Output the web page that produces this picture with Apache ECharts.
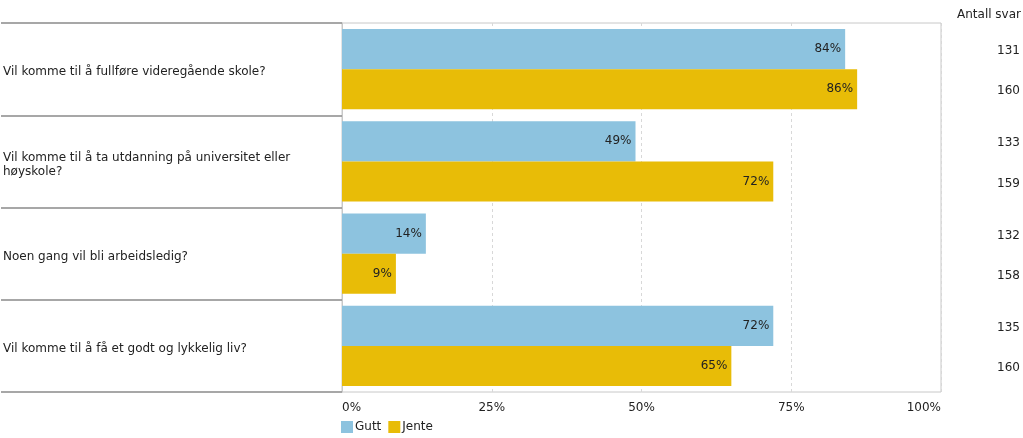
<!DOCTYPE html>
<html>
<head>
<meta charset="utf-8">
<script src="https://cdn.jsdelivr.net/npm/echarts@6/dist/echarts.min.js"></script>
<style>
  html, body { margin: 0; padding: 0; background: #fff; }
  #chart { width: 1023px; height: 438px; }
</style>
</head>
<body>
<div id="chart"></div>
<script>
// data
const categories = [
  'Vil komme til å fullføre videregående skole?',
  'Vil komme til å ta utdanning på universitet eller høyskole?',
  'Noen gang vil bli arbeidsledig?',
  'Vil komme til å få et godt og lykkelig liv?'
]
const gutt = [84, 49, 14, 72]
const jente = [86, 72, 9, 65]
const antallGutt = [131, 133, 132, 135]
const antallJente = [160, 159, 158, 160]
const xTicks = [0, 25, 50, 75, 100]

const fontFamily = 'DejaVu Sans, Verdana, sans-serif'
const textColor = '#222'

// right hand column: one count per bar, gutt first then jente
const antall = []
categories.forEach((c, i) => {
  antall.push(String(antallGutt[i]))
  antall.push(String(antallJente[i]))
})

const chart = echarts.init(document.getElementById('chart'))

chart.setOption({
  animation: false,
  textStyle: { fontFamily: fontFamily },
  title: {
    text: 'Antall svar',
    right: 2,
    top: 9,
    padding: 0,
    textStyle: { fontSize: 12, fontWeight: 'normal', color: textColor, fontFamily: fontFamily }
  },
  legend: {
    left: 336,
    bottom: 0,
    itemWidth: 12,
    itemHeight: 12,
    itemGap: 7,
    icon: 'rect',
    textStyle: { fontSize: 12, color: textColor, padding: [0, 0, 0, -3] },
    data: ['Gutt', 'Jente']
  },
  grid: {
    left: 341,
    right: 81,
    top: 23,
    bottom: 46,
    show: true,
    borderColor: '#c8c8c8',
    borderWidth: 1
  },
  xAxis: {
    type: 'value',
    min: xTicks[0],
    max: xTicks[xTicks.length - 1],
    interval: 25,
    axisLine: { show: false },
    axisTick: { show: false },
    splitLine: { show: true, lineStyle: { type: [3, 3], color: '#d8d8d8' } },
    axisLabel: {
      fontSize: 12,
      color: textColor,
      margin: 10,
      alignMinLabel: 'left',
      alignMaxLabel: 'right',
      formatter: '{value}%'
    }
  },
  yAxis: [
    {
      type: 'category',
      inverse: true,
      data: categories,
      axisLine: { show: true, lineStyle: { color: '#c8c8c8' } },
      axisTick: { show: true, length: 341, lineStyle: { color: '#8a8a8a', width: 1.5 } },
      axisLabel: {
        align: 'left',
        margin: 339,
        fontSize: 12,
        color: textColor,
        width: 305,
        overflow: 'break',
        lineHeight: 14,
        formatter: v => '{q|' + v + '}',
        rich: {
          q: { fontSize: 12, color: textColor, lineHeight: 14, padding: [6, 0, 0, 0] }
        }
      }
    },
    {
      type: 'category',
      inverse: true,
      position: 'right',
      data: antall,
      axisLine: { show: false },
      axisTick: { show: false },
      axisLabel: {
        align: 'right',
        margin: 79,
        fontSize: 12,
        color: textColor,
        // nudge each count onto the middle of its bar
        formatter: (v, i) => (i % 2 === 0 ? '{g|' + v + '}' : '{j|' + v + '}'),
        rich: {
          g: { fontSize: 12, color: textColor, padding: [10, 0, 0, 0] },
          j: { fontSize: 12, color: textColor, padding: [0, 0, 2, 0] }
        }
      }
    }
  ],
  series: [
    {
      name: 'Gutt',
      type: 'bar',
      data: gutt,
      barGap: '0%',
      barCategoryGap: '13%',
      itemStyle: { color: '#8DC3DF' },
      label: {
        show: true,
        position: 'insideRight',
        distance: 4,
        formatter: '{c}%',
        fontSize: 12,
        color: textColor
      }
    },
    {
      name: 'Jente',
      type: 'bar',
      data: jente,
      itemStyle: { color: '#E8BC07' },
      label: {
        show: true,
        position: 'insideRight',
        distance: 4,
        formatter: '{c}%',
        fontSize: 12,
        color: textColor
      }
    }
  ]
})
</script>
</body>
</html>
